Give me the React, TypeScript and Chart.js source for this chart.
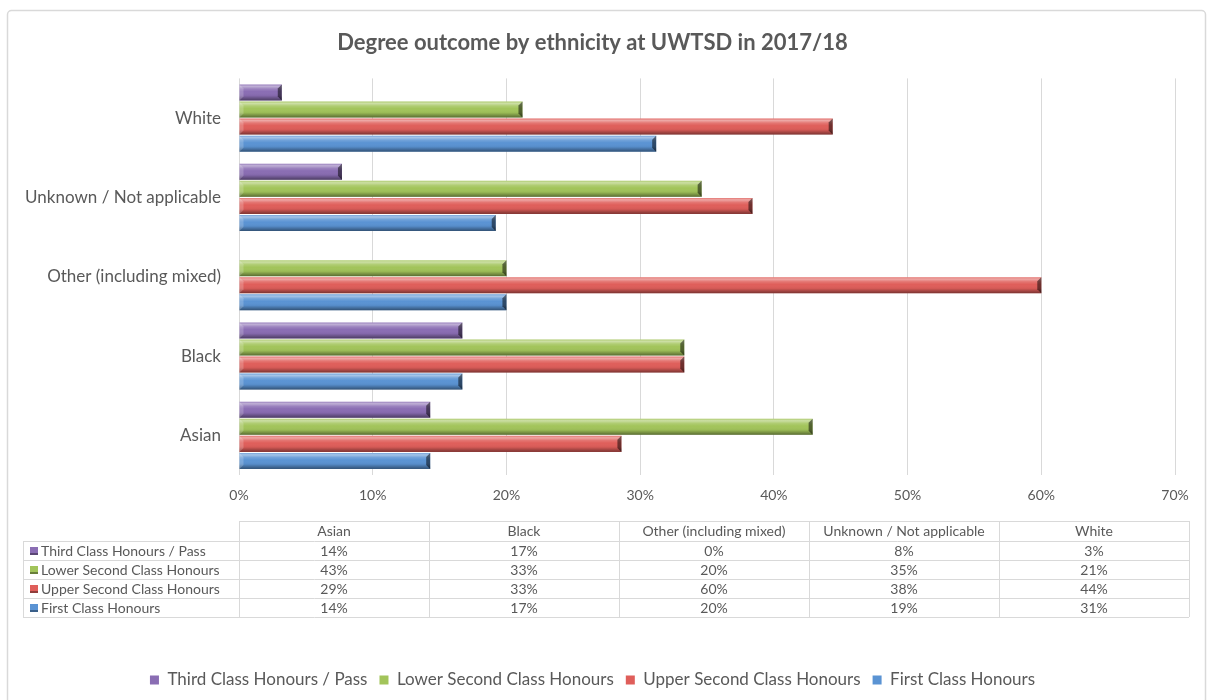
import React, { useEffect, useRef } from "react";
import { Chart, registerables } from "chart.js";

Chart.register(...registerables);

const TITLE = "Degree outcome by ethnicity at UWTSD in 2017/18";
const categories = ["Asian", "Black", "Other (including mixed)", "Unknown / Not applicable", "White"];
const seriesNames = [
  "Third Class Honours / Pass",
  "Lower Second Class Honours",
  "Upper Second Class Honours",
  "First Class Honours",
];
const thirdClass = [14.3, 16.7, 0, 7.7, 3.2];
const lowerSecond = [42.9, 33.3, 20, 34.6, 21.2];
const upperSecond = [28.6, 33.3, 60, 38.4, 44.4];
const firstClass = [14.3, 16.7, 20, 19.2, 31.2];
const seriesColors = ["#8A6DB3", "#A2C45A", "#DF5E5A", "#5A93D3"];
const xTicks = [0, 10, 20, 30, 40, 50, 60, 70];

const FONT = "Lato, 'Open Sans', sans-serif";
const TEXT = "#595959";
const GRID = "#D9D9D9";

const bevelPlugin = {
  id: "bevel",
  afterDatasetsDraw(chart: any) {
    const ctx = chart.ctx;
    chart.data.datasets.forEach((_ds: any, di: number) => {
      const meta = chart.getDatasetMeta(di);
      meta.data.forEach((el: any) => {
        const left = Math.min(el.base, el.x);
        const right = Math.max(el.base, el.x);
        const w = right - left;
        if (w < 1) return;
        const h = el.height;
        const top = el.y - h / 2;
        const bottom = top + h;
        ctx.save();
        const g = ctx.createLinearGradient(0, top, 0, bottom);
        g.addColorStop(0, "rgba(255,255,255,0.15)");
        g.addColorStop(0.12, "rgba(255,255,255,0.45)");
        g.addColorStop(0.28, "rgba(255,255,255,0.15)");
        g.addColorStop(0.45, "rgba(255,255,255,0)");
        g.addColorStop(0.7, "rgba(0,0,0,0.05)");
        g.addColorStop(0.85, "rgba(0,0,0,0.25)");
        g.addColorStop(1, "rgba(0,0,0,0.45)");
        ctx.fillStyle = g;
        ctx.fillRect(left, top, w, h);
        const b = Math.min(4, w / 2);
        ctx.fillStyle = "rgba(0,0,0,0.5)";
        ctx.beginPath();
        ctx.moveTo(right - b, top + b);
        ctx.lineTo(right, top);
        ctx.lineTo(right, bottom);
        ctx.lineTo(right - b, bottom - b);
        ctx.closePath();
        ctx.fill();
        ctx.fillStyle = "rgba(255,255,255,0.2)";
        ctx.beginPath();
        ctx.moveTo(left, top);
        ctx.lineTo(left + b, top + b);
        ctx.lineTo(left + b, bottom - b);
        ctx.lineTo(left, bottom);
        ctx.closePath();
        ctx.fill();
        ctx.restore();
      });
    });
  },
};

const frameAndTablePlugin = {
  id: "frameAndTable",
  beforeDraw(chart: any) {
    const ctx = chart.ctx;
    ctx.save();
    ctx.fillStyle = "#ffffff";
    ctx.fillRect(0, 0, chart.width, chart.height);
    ctx.strokeStyle = GRID;
    ctx.lineWidth = 1.5;
    ctx.beginPath();
    ctx.roundRect(7.5, 10.5, 1198, 720, 4);
    ctx.stroke();
    ctx.restore();
  },
  afterDraw(chart: any) {
    const ctx = chart.ctx;
    const area = chart.chartArea;
    const colLeft = area.left;
    const colW = 190;
    const labelLeft = 23;
    const headTop = 521;
    const headH = 20;
    const rowH = 19;
    const nRows = chart.data.datasets.length;
    const tableRight = colLeft + colW * categories.length;
    const tableBottom = headTop + headH + rowH * nRows;
    ctx.save();
    ctx.strokeStyle = GRID;
    ctx.lineWidth = 1;
    ctx.beginPath();
    ctx.moveTo(colLeft, headTop + 0.5);
    ctx.lineTo(tableRight, headTop + 0.5);
    for (let r = 0; r <= nRows; r++) {
      const y = Math.round(headTop + headH + r * rowH) + 0.5;
      ctx.moveTo(labelLeft, y);
      ctx.lineTo(tableRight, y);
    }
    ctx.moveTo(labelLeft + 0.5, headTop + headH);
    ctx.lineTo(labelLeft + 0.5, tableBottom);
    for (let c = 0; c <= categories.length; c++) {
      const x = Math.round(colLeft + c * colW) + 0.5;
      ctx.moveTo(x, headTop);
      ctx.lineTo(x, tableBottom);
    }
    ctx.stroke();

    ctx.fillStyle = TEXT;
    ctx.font = `14px ${FONT}`;
    ctx.textBaseline = "middle";
    ctx.textAlign = "center";
    categories.forEach((c, i) => {
      ctx.fillText(c, colLeft + colW * i + colW / 2, headTop + headH / 2 + 0.5);
    });
    chart.data.datasets.forEach((ds: any, r: number) => {
      const cy = headTop + headH + rowH * r + rowH / 2 + 0.5;
      ctx.fillStyle = ds.backgroundColor;
      ctx.fillRect(labelLeft + 7, cy - 4, 8, 8);
      ctx.fillStyle = "rgba(0,0,0,0.35)";
      ctx.fillRect(labelLeft + 7, cy + 2, 8, 2);
      ctx.fillStyle = TEXT;
      ctx.textAlign = "left";
      ctx.fillText(ds.label, labelLeft + 18, cy);
      ctx.textAlign = "center";
      ds.data.forEach((v: number, i: number) => {
        ctx.fillText(Math.round(v) + "%", colLeft + colW * i + colW / 2, cy);
      });
    });
    ctx.restore();
  },
};

export default function App() {
  const canvasRef = useRef<HTMLCanvasElement | null>(null);

  useEffect(() => {
    document.body.style.margin = "0";
    const canvas = canvasRef.current;
    if (!canvas) return;
    const seriesData = [thirdClass, lowerSecond, upperSecond, firstClass];
    const chart = new Chart(canvas, {
      type: "bar",
      data: {
        labels: categories,
        datasets: seriesNames.map((name, i) => ({
          label: name,
          data: seriesData[i],
          backgroundColor: seriesColors[i],
          borderWidth: 0,
          categoryPercentage: 0.86,
          barPercentage: 0.94,
        })),
      },
      options: {
        indexAxis: "y",
        responsive: false,
        animation: false,
        maintainAspectRatio: false,
        layout: { padding: { left: 10, right: 34, top: 0, bottom: 1.5 } },
        scales: {
          y: {
            reverse: true,
            grid: { display: false, drawTicks: false },
            border: { display: false },
            ticks: { color: TEXT, font: { family: FONT, size: 17 }, padding: 18 },
            afterFit: (scale: any) => {
              scale.width = 229;
            },
          },
          x: {
            min: 0,
            max: 70,
            afterBuildTicks: (scale: any) => {
              scale.ticks = xTicks.map((v) => ({ value: v }));
            },
            grid: { color: GRID, drawTicks: false, lineWidth: 1 },
            border: { display: false },
            ticks: {
              color: TEXT,
              font: { family: FONT, size: 14 },
              padding: 12,
              callback: (v: any) => v + "%",
            },
            afterFit: (scale: any) => {
              scale.height = 184.5;
            },
          },
        },
        plugins: {
          title: {
            display: true,
            text: TITLE,
            color: TEXT,
            font: { family: FONT, size: 22, weight: "bold" },
            padding: { top: 30, bottom: 22 },
          },
          legend: {
            position: "bottom",
            labels: {
              color: TEXT,
              font: { family: FONT, size: 17 },
              boxWidth: 9,
              boxHeight: 9,
              padding: 12,
            },
          },
          tooltip: { enabled: false },
        },
      },
      plugins: [frameAndTablePlugin, bevelPlugin],
    });
    return () => chart.destroy();
  }, []);

  return <canvas ref={canvasRef} width={1209} height={700} style={{ display: "block" }} />;
}
